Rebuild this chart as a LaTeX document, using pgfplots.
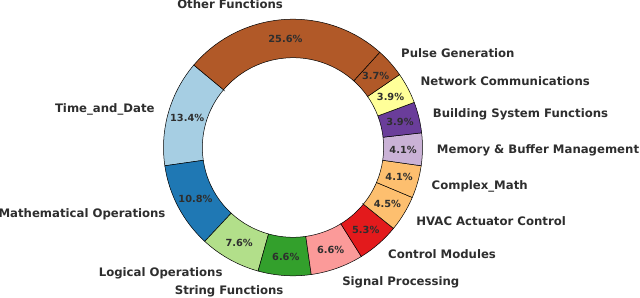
\documentclass[border=0pt]{standalone}
\usepackage{pgfplots}
\pgfplotsset{compat=1.18}
\usepackage{pgfplotstable}
\usepackage{fontspec}
\setmainfont{DejaVu Sans}
\definecolor{c0}{HTML}{A6CEE3}
\definecolor{c1}{HTML}{1F78B4}
\definecolor{c2}{HTML}{B2DF8A}
\definecolor{c3}{HTML}{33A02C}
\definecolor{c4}{HTML}{FB9A99}
\definecolor{c5}{HTML}{E31A1C}
\definecolor{c6}{HTML}{FDBF6F}
\definecolor{c7}{HTML}{FDBF6F}
\definecolor{c8}{HTML}{CAB2D6}
\definecolor{c9}{HTML}{6A3D9A}
\definecolor{c10}{HTML}{FFFF99}
\definecolor{c11}{HTML}{B15928}
\definecolor{c12}{HTML}{B15928}
\definecolor{txt}{HTML}{2E2E2E}
\pgfplotstableread[col sep=comma]{
label,pct,col
Time\_and\_Date,13.4,c0
Mathematical Operations,10.8,c1
Logical Operations,7.6,c2
String Functions,6.6,c3
Signal Processing,6.6,c4
Control Modules,5.3,c5
HVAC Actuator Control,4.5,c6
Complex\_Math,4.1,c7
Memory \& Buffer Management,4.1,c8
Building System Functions,3.9,c9
Network Communications,3.9,c10
Pulse Generation,3.7,c11
Other Functions,25.6,c12
}\datatable
\newcommand\labfont{\fontsize{11.7bp}{13bp}\selectfont\bfseries}
\newcommand\pctfont{\fontsize{9.8bp}{11bp}\selectfont\bfseries}
\begin{document}
\begin{tikzpicture}
\begin{axis}[name=ax, width=640bp, height=298bp, scale only axis,
  xmin=-2.2625, xmax=2.6795, ymin=-1.1730, ymax=1.1497,
  hide axis, clip=false]
\pgfplotstablegetrowsof{\datatable}
\pgfmathtruncatemacro{\N}{\pgfplotsretval-1}
\def\tot{0}
\pgfplotsforeachungrouped \i in {0,...,\N}{%
  \pgfplotstablegetelem{\i}{pct}\of\datatable
  \pgfmathsetmacro{\tot}{\tot+\pgfplotsretval}%
}
\def\cum{140}
\pgfplotsforeachungrouped \i in {0,...,\N}{%
  \pgfplotstablegetelem{\i}{pct}\of\datatable \let\pv\pgfplotsretval
  \pgfplotstablegetelem{\i}{col}\of\datatable \let\wcol\pgfplotsretval
  \pgfplotstablegetelem{\i}{label}\of\datatable \let\lab\pgfplotsretval
  \pgfmathsetmacro{\angA}{\cum}%
  \pgfmathsetmacro{\angB}{\cum+360*\pv/\tot}%
  \pgfmathsetmacro{\angM}{(\angA+\angB)/2}%
  \pgfmathsetmacro{\xia}{0.7*cos(\angA)}%
  \pgfmathsetmacro{\yia}{0.7*sin(\angA)}%
  \pgfmathsetmacro{\xoa}{cos(\angA)}%
  \pgfmathsetmacro{\yoa}{sin(\angA)}%
  \pgfmathsetmacro{\xib}{0.7*cos(\angB)}%
  \pgfmathsetmacro{\yib}{0.7*sin(\angB)}%
  \pgfmathsetmacro{\xl}{1.11*cos(\angM)}%
  \pgfmathsetmacro{\yl}{1.115*sin(\angM)}%
  \pgfmathsetmacro{\xp}{0.85*cos(\angM)}%
  \pgfmathsetmacro{\yp}{0.85*sin(\angM)}%
  \pgfmathtruncatemacro{\isright}{cos(\angM)>0}%
  \ifnum\isright=1 \def\anc{west}\else\def\anc{east}\fi
  \edef\temp{%
    \noexpand\filldraw[fill=\wcol, draw=black, line width=0.5bp]
      (axis cs:\xia,\yia) -- (axis cs:\xoa,\yoa)
      arc[start angle=\angA, end angle=\angB, x radius=129.5bp, y radius=128.3bp]
      -- (axis cs:\xib,\yib)
      arc[start angle=\angB, end angle=\angA, x radius=90.65bp, y radius=89.81bp] -- cycle;
    \noexpand\node[anchor=\anc, inner sep=0pt, text=txt, font=\noexpand\labfont,
      text height=0.8em, text depth=0pt]
      at (axis cs:\xl,\yl) {\unexpanded\expandafter{\lab}};
    \noexpand\node[anchor=center, inner sep=0pt, text=txt, font=\noexpand\pctfont,
      text height=0.8em, text depth=0pt]
      at (axis cs:\xp,\yp) {\pv\noexpand\%};
  }%
  \temp
  \let\cum\angB
}
\end{axis}
\pgfresetboundingbox
\path (ax.south west) rectangle (ax.north east);
\end{tikzpicture}
\end{document}
